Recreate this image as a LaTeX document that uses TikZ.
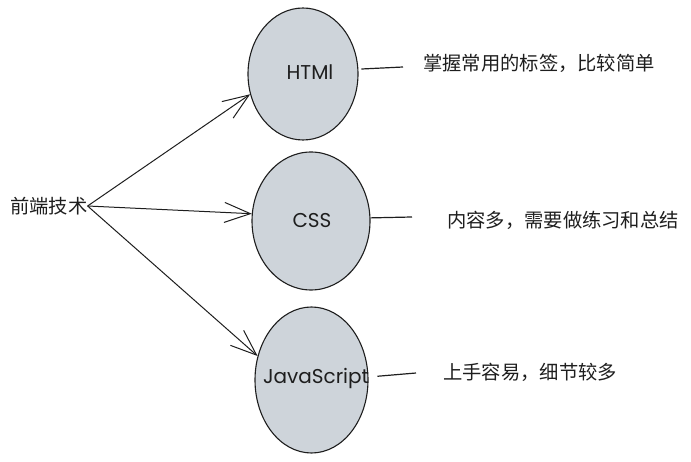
\documentclass[tikz,border=0pt]{standalone}
\usepackage{fontspec}
\usepackage{tikz}
\usetikzlibrary{shapes.geometric, arrows.meta, positioning}
\newfontfamily\cjkfont{Noto Sans CJK SC}
\newfontfamily\handfont{Poppins}
\definecolor{INK}{HTML}{1E1E1E}
\definecolor{BUBBLE_GRAY}{HTML}{CED4DA}

\begin{document}
\begin{tikzpicture}[x=1pt, y=-1pt,
    bubble/.style={ellipse, draw=INK, fill=BUBBLE_GRAY, line width=1.1pt, inner sep=0pt},
    handtext/.style={text=INK, font=\handfont\fontsize{20}{24}\selectfont, inner sep=0pt},
    note/.style={anchor=west, text=INK, font=\cjkfont\fontsize{19.3}{23}\selectfont, inner sep=0pt},
    pointer/.style={draw=INK, line width=1pt, -{Straight Barb[length=26pt, width=20pt, line width=1pt]}},
    stub/.style={draw=INK, line width=1.2pt}]
      \useasboundingbox (0,0) rectangle (691,462);

      % Root topic
      \node[note] (tech) at (10,206) {前端技术};

      % Bubbles
      \node[bubble, minimum width=110pt, minimum height=132pt] (html) at (303,74) {};
      \node[handtext] (htmllabel) at (310,72) {HTMl};
      \node[bubble, minimum width=118pt, minimum height=138pt] (css) at (311,221) {};
      \node[handtext] (csslabel) at (312,221) {CSS};
      \node[bubble, minimum width=113pt, minimum height=146pt] (js) at (311.5,380) {};
      \node[handtext] (jslabel) at (316,378) {JavaScript};

      % Arrows from the root
      \draw[pointer] (tech.east) -- (html.201);
      \draw[pointer] (tech.east) -- (css.173);
      \draw[pointer] (tech.east) -- (js.156);

      % Notes
      \node[note] (htmlnote) at (423,63) {掌握常用的标签，比较简单};
      \node[note] (cssnote) at (447,220) {内容多，需要做练习和总结};
      \node[note] (jsnote) at (443,372) {上手容易，细节较多};

      % Short stubs towards the notes
      \coordinate (htmlend) at (403,67);
      \coordinate (cssend) at (412,217);
      \coordinate (jsend) at (416,373);
      \draw[stub, shorten <=3pt] (html.5) -- (htmlend);
      \draw[stub] (css.3) -- (cssend);
      \draw[stub, shorten <=9pt] (js.3) -- (jsend);
    \end{tikzpicture}
\end{document}
